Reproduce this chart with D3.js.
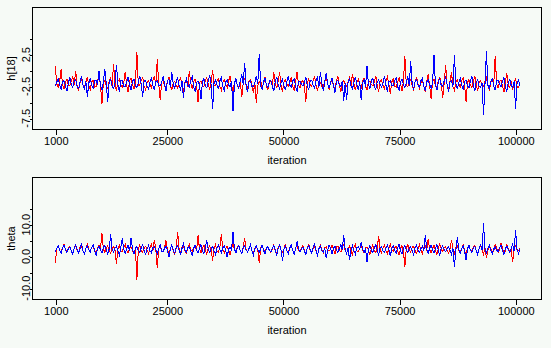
<!DOCTYPE html>
<html><head><meta charset="utf-8">
<script src="https://cdn.jsdelivr.net/npm/d3@7"></script>
<style>
html,body{margin:0;padding:0;background:#f6faf6;}
text{font-family:Arial,"Liberation Sans",sans-serif;fill:#000;}
</style></head>
<body><svg id="c" width="551" height="348"></svg>
<script>
// ---------- data ----------
const iterStart = 1001, iterEnd = 101000;
const xTicks = [1000, 25000, 50000, 75000, 100000];
const xTickLabels = ["1000", "25000", "50000", "75000", "100000"];
const xTitle = "iteration";

const hTitle = "h[18]";
const hTicks = [-7.5, -5, -2.5, 0, 2.5, 5];
const hTickLabels = ["-7.5", "", "-2.5", "", "2.5", ""];
const hRed = [0.7,-2.1,-2.6,-1.7,0.2,-2.3,-2.9,-1.8,-1.3,-2.4,
-2.4,-1.6,-1.0,-2.2,0.0,-2.5,-3.1,-1.9,-1.4,-2.3,
-2.7,-1.8,-1.1,-2.4,-3.0,-1.7,-1.6,-2.6,-2.5,-1.5,
-0.9,-2.2,-5.3,-1.9,-1.5,-2.4,-2.8,-1.6,-1.2,-2.5,
1.1,-2.0,-3.2,-1.7,-1.4,-2.3,-2.6,-1.9,-0.2,-2.4,
-3.4,-1.6,-1.2,-2.2,-2.9,-1.8,2.9,-2.3,-2.3,-1.5,
-1.1,-2.5,-3.0,-1.9,-1.6,-2.1,-2.7,-1.6,-0.8,-2.4,
1.8,-2.0,-4.7,-1.8,-1.3,-2.5,-2.5,-1.7,-1.0,-2.3,
-3.1,-1.9,-1.7,-2.4,-2.8,-1.6,-1.2,-2.2,-3.3,-1.8,
-1.5,-2.5,-0.1,-2.0,-2.9,-1.7,-1.4,-2.3,-5.0,-1.9,
-1.6,-2.4,-2.6,-1.5,-1.1,-2.2,-3.0,-1.8,0.1,-2.3,
-2.4,-1.7,-1.3,-2.5,-3.1,-1.9,-1.5,-2.1,-2.7,-1.6,
-0.9,-2.4,-3.2,-1.8,-1.6,-2.3,-2.5,-1.7,-4.2,-2.0,
-1.2,-2.4,-2.9,-1.6,-1.4,-2.2,-3.5,-1.9,-5.1,-2.3,
-1.8,-1.6,-2.6,-2.0,-1.0,-2.5,-3.0,-1.7,-1.7,-2.3,
-0.3,-2.1,-2.8,-1.6,-0.3,-2.4,-3.3,-1.8,-1.5,-2.2,
-2.4,-1.9,-1.1,-2.5,-3.1,-1.7,-0.2,-2.3,-2.7,-1.8,
-1.6,-2.4,-4.9,-1.9,-1.3,-2.2,-2.5,-1.6,-1.0,-2.3,
-3.2,-1.8,-1.8,-2.5,-2.6,-1.7,-1.2,-2.1,-3.0,-1.9,
-1.5,-2.4,-2.8,-1.6,-0.9,-2.3,-3.4,-1.8,-1.6,-2.2,
-2.5,-1.7,-1.1,-2.4,-0.5,-2.0,-3.1,-1.9,-1.4,-2.3,
-2.7,-1.6,-1.2,-2.5,-3.0,-1.8,-1.7,-2.2,-2.4,-1.9,
-0.8,-2.4,-3.3,-1.7,-1.5,-2.3,-2.9,-1.6,-1.0,-2.2,
-3.6,-1.8,-1.3,-2.5,-2.6,-1.9,-1.1,-2.1,-3.2,-1.7,
2.3,-2.3,-2.5,-1.6,-1.4,-2.4,-3.0,-1.8,-1.0,-2.2,
-2.8,-1.9,-1.6,-2.5,-3.4,-1.7,-0.6,-2.3,-4.5,-1.8,
-1.3,-2.4,-2.6,-1.6,-1.1,-2.2,-4.3,-1.9,0.9,-2.3,
-2.9,-1.7,-0.3,-2.5,-3.1,-1.8,-1.5,-2.1,-2.6,-1.6,
-1.2,-2.4,-4.9,-1.9,-1.4,-2.3,-2.7,-1.7,-0.9,-2.2,
-3.2,-1.8,-1.6,-2.5,-2.5,-1.6,-1.1,-2.4,-3.0,-1.9,
-1.3,-2.2,2.3,-2.0,-2.8,-1.7,-1.5,-2.3,-3.4,-1.8,
-0.4,-2.4,-2.6,-1.6,-3.0,-2.1,-1.2,-2.5,-2.7,-1.9];
const hBlue = [-2.4,-1.8,-1.3,-2.3,-2.9,-1.7,-1.6,-2.4,-3.2,-1.9,
-1.1,-2.2,-2.6,-1.6,-1.4,-2.5,-2.8,-1.8,-0.9,-2.3,
-3.0,-1.7,-4.1,-2.0,-1.2,-2.4,-2.7,-1.6,-1.5,-2.2,
0.0,-2.3,-3.1,-1.8,0.2,-2.1,-4.9,-1.7,-1.4,-2.4,
-2.8,-1.9,0.9,-2.2,-3.3,-1.6,-1.6,-2.5,-2.5,-1.8,
-1.0,-2.3,-3.0,-1.7,-1.3,-2.4,-2.7,-1.9,-0.8,-2.2,
-4.1,-1.6,-1.5,-2.5,-2.9,-1.8,-1.2,-2.3,-3.1,-1.7,
-1.6,-2.4,-2.4,-1.9,-0.9,-2.1,-3.2,-1.6,-1.4,-2.5,
-0.3,-2.2,-2.8,-1.8,-1.1,-2.4,-3.0,-1.7,-4.3,-2.0,
-1.3,-2.3,-2.6,-1.6,-1.0,-2.5,-3.3,-1.9,-1.7,-2.2,
-4.5,-1.8,-1.2,-2.4,-2.7,-1.7,-0.7,-2.3,-6.05,-1.9,
-1.5,-2.2,-2.9,-1.6,-1.1,-2.5,-3.1,-1.8,-1.4,-2.3,
-2.6,-1.7,-6.3,-2.0,-1.3,-2.4,-2.8,-1.6,-0.6,-2.2,
1.2,-2.3,-3.4,-1.8,-1.6,-2.5,-2.5,-1.9,-0.8,-2.1,
2.6,-2.4,-3.0,-1.7,-1.2,-2.3,-2.7,-1.6,-1.5,-2.5,
-3.2,-1.8,-1.0,-2.2,-2.9,-1.9,-1.4,-2.4,-3.1,-1.7,
-0.9,-2.3,-2.6,-1.6,-1.3,-2.5,-3.3,-1.8,-1.7,-2.2,
-2.4,-1.9,-1.0,-2.4,-3.0,-1.7,-1.5,-2.3,-2.8,-1.6,
-1.1,-2.5,-0.3,-2.0,-3.2,-1.8,-0.4,-2.2,-2.7,-1.9,
-1.2,-2.4,-3.5,-1.7,-1.6,-2.3,-2.5,-1.6,-4.8,-2.0,
-4.6,-1.8,-1.3,-2.4,-2.9,-1.9,-1.0,-2.2,-3.1,-1.7,
-4.6,-2.0,-1.4,-2.5,0.7,-2.3,-2.8,-1.6,-1.2,-2.4,
-3.0,-1.8,-1.5,-2.2,-2.6,-1.9,-0.8,-2.3,-3.3,-1.7,
-1.6,-2.4,-2.4,-1.6,-1.1,-2.5,-3.1,-1.8,-1.3,-2.2,
-2.7,-1.9,-0.9,-2.4,1.5,-2.1,-3.0,-1.7,-1.4,-2.3,
-2.6,-1.6,-1.2,-2.5,-3.2,-1.8,-1.5,-2.2,-2.8,-1.9,
2.4,-2.3,-3.1,-1.7,-1.3,-2.4,-2.5,-1.6,-1.0,-2.2,
-3.4,-1.8,-1.6,-2.5,2.4,-2.0,-2.9,-1.9,-1.2,-2.3,
-3.0,-1.7,-1.5,-2.4,-2.7,-1.6,-0.9,-2.2,-3.2,-1.8,
-1.4,-2.5,-2.6,-1.9,-7.0,-2.1,3.0,-2.3,-2.8,-1.7,
-1.3,-2.4,-3.1,-1.6,-1.6,-2.2,-2.5,-1.8,-1.1,-2.5,
-3.3,-1.9,-1.4,-2.3,-2.7,-1.7,-6.0,-2.0,-1.5,-2.4];

const thetaTitle = "theta";
const thetaTicks = [-10, -5, 0, 5, 10, 15];
const thetaTickLabels = ["-10.0", "", "0.0", "", "10.0", ""];
const thetaRed = [-2.0,2.6,3.5,1.9,1.2,2.8,3.8,2.1,1.5,2.7,
3.2,1.8,0.9,2.5,3.6,2.0,1.4,2.9,3.0,1.7,
0.8,2.6,3.9,2.2,1.6,2.8,3.3,1.9,1.1,2.4,
3.7,2.0,7.5,2.3,1.3,2.7,3.4,1.8,1.0,2.6,
3.1,2.1,-2.4,2.4,3.5,1.7,1.7,2.9,3.8,2.0,
1.2,2.5,3.0,1.9,0.7,2.7,-7.4,2.2,3.6,1.8,
1.4,2.6,3.2,2.1,0.9,2.8,3.7,1.7,5.2,2.3,
-3.5,2.4,3.3,1.9,1.5,2.7,5.0,2.0,1.1,2.5,
3.4,1.8,0.6,2.6,7.8,2.2,1.3,2.9,3.5,1.7,
1.0,2.4,3.9,2.0,1.6,2.8,3.1,1.9,6.7,2.3,
1.2,2.6,3.6,1.8,0.8,2.7,3.3,2.1,-1.3,2.5,
3.7,1.7,1.4,2.8,7.0,2.2,1.1,2.4,3.2,1.9,
0.5,2.6,3.8,2.0,1.5,2.9,3.4,1.8,0.9,2.5,
5.9,2.1,1.3,2.7,3.6,1.7,1.0,2.4,3.1,2.0,
-2.0,2.6,3.5,1.9,1.6,2.8,3.0,2.2,1.2,2.5,
3.7,1.8,0.7,2.7,3.3,2.0,1.4,2.4,3.9,1.7,
1.1,2.9,3.2,2.1,0.6,2.6,3.6,1.8,1.5,2.5,
3.4,2.0,0.9,2.8,3.8,1.9,1.3,2.3,3.1,1.7,
0.4,2.6,3.5,2.2,1.2,2.7,3.0,1.8,1.7,2.4,
3.6,2.0,0.8,2.9,3.3,1.9,1.4,2.5,4.0,1.7,
1.0,2.6,3.2,2.1,0.3,2.8,3.7,1.8,1.5,2.4,
3.4,2.0,1.1,2.7,3.0,1.9,0.7,2.5,3.6,1.7,
1.3,2.6,6.4,2.2,1.2,2.8,3.5,1.8,0.9,2.4,
3.8,2.0,1.6,2.7,3.1,1.9,0.5,2.5,3.4,1.7,
-3.2,2.6,3.7,2.1,1.4,2.9,3.2,1.8,1.0,2.4,
3.6,2.0,0.8,2.7,3.3,1.9,5.5,2.3,1.2,2.5,
3.5,1.7,0.6,2.6,3.9,2.2,1.5,2.8,3.0,1.8,
1.1,2.4,5.3,2.0,0.9,2.7,3.4,1.9,1.3,2.5,
3.7,1.7,0.4,2.6,3.2,2.1,1.6,2.9,3.6,1.8,
1.0,2.4,3.3,2.0,0.7,2.7,-0.5,1.9,3.5,2.5,
1.4,1.7,3.8,2.6,1.2,2.2,4.2,2.8,0.9,1.8,
3.6,2.4,1.5,2.0,-1.7,2.7,3.4,1.9,1.8,2.5];
const thetaBlue = [1.5,2.6,3.3,1.9,0.9,2.7,3.7,2.0,1.3,2.5,
3.0,1.8,0.6,2.8,3.6,2.1,1.2,2.4,4.1,1.7,
0.8,2.6,3.4,2.0,1.5,2.9,3.8,1.8,0.3,2.5,
3.2,2.2,1.1,2.7,3.6,1.9,0.7,2.4,7.0,2.0,
1.4,2.6,3.3,1.8,0.5,2.8,5.9,2.1,1.0,2.5,
3.5,1.7,5.9,2.3,0.8,2.6,3.1,1.9,1.3,2.7,
3.7,2.0,0.4,2.4,3.4,1.8,1.2,2.9,3.0,2.1,
0.9,2.5,3.8,1.7,1.5,2.6,3.2,2.0,-0.2,2.4,
3.6,1.9,1.1,2.8,3.3,1.8,0.7,2.5,3.9,2.1,
1.4,2.7,3.1,1.7,0.2,2.6,3.5,2.0,1.0,2.4,
3.7,1.9,0.8,2.8,5.0,2.2,1.3,2.5,3.2,1.8,
0.6,2.6,3.6,2.0,1.2,2.7,3.4,1.9,-0.3,2.4,
3.0,2.1,7.8,2.3,1.1,2.6,3.5,1.8,0.9,2.8,
3.3,2.0,1.4,2.5,3.8,1.7,0.5,2.6,3.2,2.1,
1.2,2.4,3.6,1.9,0.7,2.7,3.1,1.8,1.5,2.5,
3.4,2.0,0.3,2.6,3.7,1.9,-1.5,2.3,3.3,1.8,
1.0,2.7,3.6,2.0,0.8,2.5,4.8,2.2,1.3,2.4,
3.0,1.7,0.6,2.6,3.5,2.1,1.1,2.8,3.9,1.9,
0.4,2.5,3.2,1.8,1.4,2.7,-0.5,2.0,3.6,2.4,
0.9,2.6,3.3,1.9,1.2,2.5,3.7,2.1,6.7,2.3,
1.0,2.6,-1.0,2.0,3.4,1.8,0.7,2.7,3.1,2.2,
4.5,2.4,1.3,2.6,-1.7,2.1,3.5,1.9,1.1,2.5,
3.8,2.0,0.6,2.8,3.2,1.7,1.4,2.6,3.6,2.1,
0.2,2.4,3.3,1.9,1.0,2.7,3.9,1.8,0.8,2.5,
3.4,2.0,1.2,2.6,3.0,1.9,0.5,2.8,3.6,2.1,
1.3,2.4,3.2,1.7,6.7,2.3,0.9,2.6,3.5,2.0,
1.1,2.5,3.8,1.8,0.4,2.7,3.3,2.1,1.5,2.4,
3.1,1.9,0.7,2.6,-3.2,2.0,6.2,2.3,1.0,2.5,
3.4,1.8,-1.2,2.4,3.6,2.0,1.2,2.7,3.2,1.9,
0.6,2.5,3.7,2.1,10.5,2.3,1.1,2.6,3.4,1.8,
0.8,2.4,3.0,2.0,1.4,2.7,3.6,1.9,0.5,2.5,
3.3,2.1,1.2,2.6,3.8,1.7,8.3,2.2,1.0,2.4];

const chainColors = ["#ff0000", "#0000ff"];

// ---------- drawing ----------
const svg = d3.select("#c");
svg.append("rect").attr("width", 551).attr("height", 348).attr("fill", "#f6faf6");

const boxLeft = 32, boxRight = 542;
const x = d3.scaleLinear().domain([1000, 100000]).range([55.3, 515.3]);

const panels = [
  {top: 7, bottom: 130, domain: [-9.35, 10], ticks: hTicks, labels: hTickLabels, title: hTitle, chains: [hRed, hBlue]},
  {top: 177, bottom: 300, domain: [-13.7, 25], ticks: thetaTicks, labels: thetaTickLabels, title: thetaTitle, chains: [thetaRed, thetaBlue]}
];

panels.forEach((p, pi) => {
  const y = d3.scaleLinear().domain(p.domain).range([p.bottom, p.top]);
  const g = svg.append("g");
  const clipId = "clip" + pi;
  g.append("clipPath").attr("id", clipId).append("rect")
    .attr("x", boxLeft).attr("y", p.top).attr("width", boxRight - boxLeft).attr("height", p.bottom - p.top);

  const dg = g.append("g").attr("clip-path", `url(#${clipId})`);
  p.chains.forEach((vals, ci) => {
    const n = vals.length;
    const iterOf = d3.scaleLinear().domain([0, n - 1]).range([iterStart, iterEnd]);
    const line = d3.line().x((d, i) => x(iterOf(i))).y(d => y(d));
    dg.append("path").datum(vals).attr("d", line)
      .attr("fill", "none").attr("stroke", chainColors[ci]).attr("stroke-width", 1)
      .attr("shape-rendering", "crispEdges");
  });

  // box
  g.append("rect").attr("x", boxLeft + 0.5).attr("y", p.top + 0.5)
    .attr("width", boxRight - boxLeft - 1).attr("height", p.bottom - p.top - 1)
    .attr("fill", "none").attr("stroke", "#000").attr("stroke-width", 1);

  // x axis
  const xa = d3.axisBottom(x).tickValues(xTicks).tickSize(5).tickPadding(3)
    .tickFormat((d, i) => xTickLabels[i]);
  const xg = g.append("g").attr("transform", `translate(0.5,${p.bottom - 0.5})`).call(xa);
  xg.select(".domain").remove();
  xg.selectAll("line").attr("stroke", "#000").attr("shape-rendering", "crispEdges");
  xg.selectAll("text").attr("font-size", 11).attr("font-family", "Arial, 'Liberation Sans', sans-serif").attr("fill", "#000");

  // y axis
  const ya = d3.axisLeft(y).tickValues(p.ticks).tickSize(3).tickFormat("");
  const yg = g.append("g").attr("transform", `translate(${boxLeft + 0.5},0.5)`).call(ya);
  yg.select(".domain").remove();
  yg.selectAll("line").attr("stroke", "#000").attr("shape-rendering", "crispEdges");
  p.ticks.forEach((t, i) => {
    if (!p.labels[i]) return;
    g.append("text").attr("transform", `translate(29.5,${y(t)}) rotate(-90)`)
      .attr("text-anchor", "middle").attr("font-size", 11).text(p.labels[i]);
  });

  // titles
  g.append("text").attr("transform", `translate(15,${(p.top + p.bottom) / 2}) rotate(-90)`)
    .attr("text-anchor", "middle").attr("font-size", 11).text(p.title);
  g.append("text").attr("x", (boxLeft + boxRight) / 2).attr("y", p.bottom + 34)
    .attr("text-anchor", "middle").attr("font-size", 11).text(xTitle);
});
</script></body></html>
